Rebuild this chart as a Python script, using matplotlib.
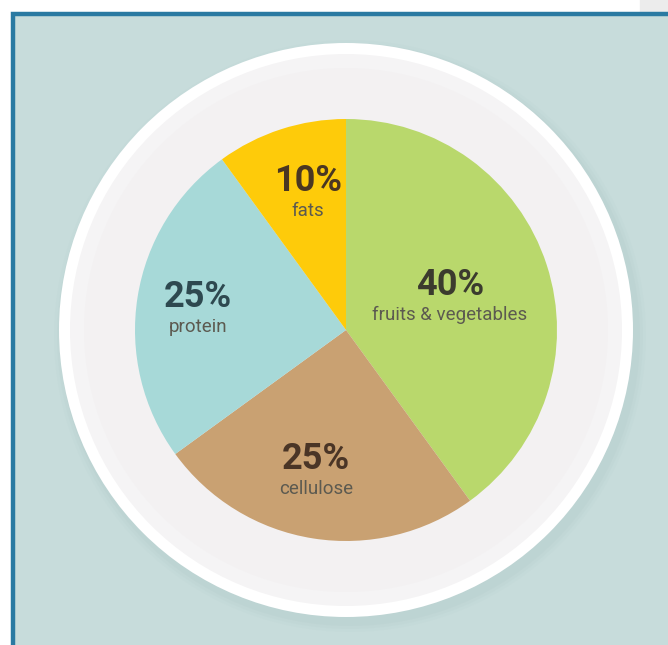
import matplotlib.pyplot as plt
from matplotlib.patches import Circle, Rectangle

plt.rcParams['font.family'] = ['Roboto', 'DejaVu Sans']

# data
labels = ['fruits & vegetables', 'cellulose', 'protein', 'fats']
shares = [40, 25, 25, 10]
colors = ['#b9d86c', '#c9a172', '#a7d9d8', '#fecb0a']
pct_colors = ['#3b3b2e', '#4a3526', '#2e4950', '#4a3722']
# label anchor (pixel) positions of each text block
label_xy = [(450, 304), (316, 478), (198, 316), (308, 200)]

W, H = 668, 645
fig = plt.figure(figsize=(W / 100, H / 100), dpi=100)
ax = fig.add_axes([0, 0, 1, 1])
ax.set_xlim(0, W)
ax.set_ylim(0, H)
ax.set_aspect('equal')
ax.axis('off')

# outer page + framed panel
fig.patch.set_facecolor('white')
ax.add_patch(Rectangle((640, H - 12), 40, 14, color='#ececec', zorder=0))
ax.add_patch(Rectangle((13, -20), 700, H - 14 + 20, facecolor='#c7dcdb',
                       edgecolor='#2a7aa2', lw=3.2, zorder=1))

cx, cy = 346, H - 330

# plate shadow
for r, a in [(296, 0.05), (293, 0.07), (290, 0.09)]:
    ax.add_patch(Circle((cx + 4, cy - 6), r, color='#9fb8b8', alpha=a, lw=0, zorder=2))
# plate
ax.add_patch(Circle((cx, cy), 287, color='#ffffff', lw=0, zorder=3))
ax.add_patch(Circle((cx, cy), 276, color='#f5f4f5', lw=0, zorder=3))
ax.add_patch(Circle((cx, cy), 262, color='#f3f1f2', lw=0, zorder=3))

wedges, _ = ax.pie(shares, colors=colors, startangle=90, counterclock=False,
                   center=(cx, cy), radius=211, frame=True,
                   wedgeprops=dict(linewidth=0, zorder=4))
for w in wedges:
    w.set_zorder(4)
ax.set_xlim(0, W)
ax.set_ylim(0, H)
ax.axis('off')

for lab, val, (x, y), c in zip(labels, shares, label_xy, pct_colors):
    ax.text(x, H - y + 1, f'{val}%', ha='center', va='bottom', fontsize=26,
            fontweight='bold', color=c, zorder=5)
    ax.text(x, H - y - 2, lab, ha='center', va='top', fontsize=13.5,
            color='#5c5a50', zorder=5)

fig.savefig('out.png', dpi=100)
